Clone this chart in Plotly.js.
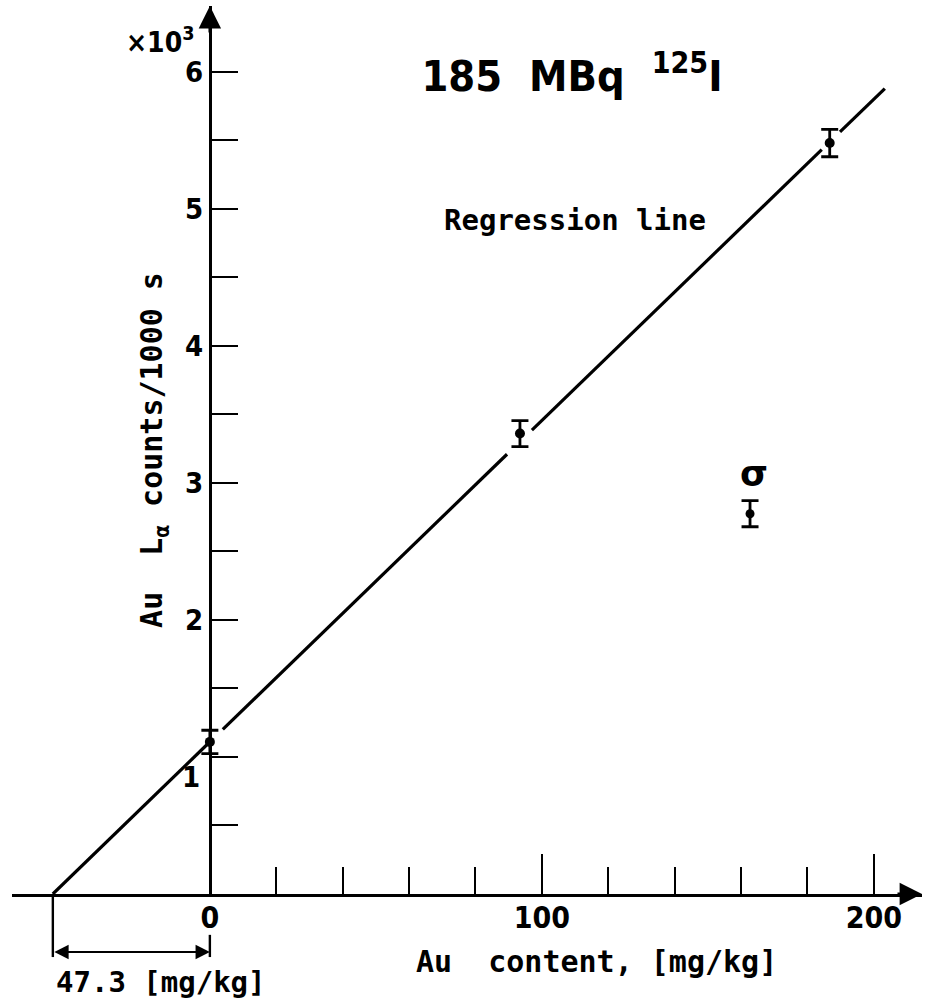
<!DOCTYPE html>
<html>
<head>
<meta charset="utf-8">
<script src="https://cdn.plot.ly/plotly-3.0.1.min.js"></script>
<style>html,body{margin:0;padding:0;background:#fff;}#chart{width:935px;height:1007px;}</style>
</head>
<body>
<div id="chart"></div>
<script>
// ---- data ----
var auContent = [0, 93.4, 186.7];            // mg/kg
var lCounts   = [1110, 3360, 5480];          // counts / 1000 s
var lErr      = [85, 95, 100];
var sigmaX = [162.7], sigmaY = [2775], sigmaErr = [95];
var regX = [-47.3, -0.9, null, 3.9, 89.5, null, 97.0, 184.3, null, 189.8, 203.3];
var regY = [0, 1089, null, 1201, 3209, null, 3385, 5432, null, 5561, 5877];
var offsetX = -47.3;                         // x-intercept
var xMajor = [0, 100, 200], xMajorText = ['0', '100', '200'];
var xMinor = [20, 40, 60, 80, 120, 140, 160, 180];
var yMajor = [1000, 2000, 3000, 4000, 5000, 6000], yMajorText = ['', '2', '3', '4', '5', '6'];
var yMinor = [500, 1500, 2500, 3500, 4500, 5500];

var numFont = 'DejaVu Sans Condensed, Liberation Sans Narrow, sans-serif';
var txtFont = 'DejaVu Sans Mono, Liberation Mono, monospace';
var W = 'bold';

var traces = [
  {x: regX, y: regY, mode: 'lines', connectgaps: false,
   line: {color: '#000', width: 3.2}, hoverinfo: 'skip', showlegend: false},
  {x: auContent, y: lCounts, mode: 'markers',
   marker: {color: '#000', size: 10},
   error_y: {type: 'data', array: lErr, visible: true, color: '#000', thickness: 2.8, width: 8.5},
   showlegend: false},
  {x: sigmaX, y: sigmaY, mode: 'markers',
   marker: {color: '#000', size: 9},
   error_y: {type: 'data', array: sigmaErr, visible: true, color: '#000', thickness: 2.8, width: 8.5},
   showlegend: false}
];

var layout = {
  width: 935, height: 1007,
  margin: {l: 12, r: 13, t: 6, b: 113, pad: 0},
  paper_bgcolor: '#fff', plot_bgcolor: '#fff',
  showlegend: false,
  title: {text: '185\u00a0\u00a0MBq\u00a0\u00a0<sup>125</sup>I',
          font: {family: numFont, size: 43, color: '#000', weight: W},
          xref: 'container', yref: 'container',
          x: 572 / 935, xanchor: 'center', y: 1 - 76 / 1007, yanchor: 'middle'},
  xaxis: {range: [-59.6, 214.5], showgrid: false, zeroline: false,
          showline: true, linecolor: '#000', linewidth: 2.6,
          tickmode: 'array', tickvals: xMajor, ticktext: xMajorText,
          ticks: 'inside', ticklen: 40, tickwidth: 2, tickcolor: '#000',
          ticklabelstandoff: -5,
          minor: {tickmode: 'array', tickvals: xMinor, ticks: 'inside', ticklen: 27, tickwidth: 2, tickcolor: '#000', showgrid: false},
          tickfont: {family: numFont, size: 30, color: '#000', weight: W}},
  yaxis: {range: [0, 6480], showgrid: false, zeroline: false,
          anchor: 'free', position: 198 / 910,
          showline: true, linecolor: '#000', linewidth: 2.6,
          tickmode: 'array', tickvals: yMajor, ticktext: yMajorText,
          ticks: 'inside', ticklen: 26, tickwidth: 2, tickcolor: '#000',
          minor: {tickmode: 'array', tickvals: yMinor, ticks: 'inside', ticklen: 26, tickwidth: 2, tickcolor: '#000', showgrid: false},
          tickfont: {family: numFont, size: 29, color: '#000', weight: W},
          title: {text: 'Au\u00a0\u00a0L<sub>\u03b1</sub>\u00a0counts/1000\u00a0s',
                  font: {family: txtFont, size: 30, color: '#000', weight: W}, standoff: 12}},
  shapes: [
    {type: 'line', xref: 'x', yref: 'paper', x0: offsetX, x1: offsetX, y0: 0, y1: -0.071, line: {color: '#000', width: 2.4}},
    {type: 'line', xref: 'x', yref: 'paper', x0: 0, x1: 0, y0: -0.046, y1: -0.071, line: {color: '#000', width: 2.4}}
  ],
  annotations: [
    // axis arrowheads
    {xref: 'x', yref: 'paper', x: 0, y: 1, ax: 0, ay: 28, showarrow: true, arrowhead: 2, arrowsize: 1.6, arrowwidth: 2.8, arrowcolor: '#000', text: ''},
    {xref: 'paper', yref: 'y', x: 1, y: 0, ax: -26, ay: 0, showarrow: true, arrowhead: 2, arrowsize: 1.6, arrowwidth: 2.8, arrowcolor: '#000', text: ''},
    // dimension arrow
    {xref: 'x', yref: 'paper', x: 0, y: -0.0653, axref: 'x', ax: offsetX, ayref: 'pixel', ay: 0,
     showarrow: true, arrowhead: 2, arrowside: 'end+start', arrowsize: 1.3, arrowwidth: 2.2, arrowcolor: '#000', text: ''},
    {xref: 'paper', yref: 'paper', x: (161 - 12) / 910, y: (894 - 982) / 888, showarrow: false,
     text: '47.3 [mg/kg]', font: {family: txtFont, size: 29, color: '#000', weight: W}, xanchor: 'center', yanchor: 'middle'},
    // x axis title
    {xref: 'paper', yref: 'paper', x: (596 - 12) / 910, y: (894 - 962) / 888, showarrow: false,
     text: 'Au\u00a0\u00a0content, [mg/kg]', font: {family: txtFont, size: 30, color: '#000', weight: W}, xanchor: 'center', yanchor: 'middle'},
    // tick label "1" placed below its tick
    {xref: 'x', yref: 'y', x: 0, y: 1000, xanchor: 'right', yanchor: 'middle', xshift: -8, yshift: -20, showarrow: false,
     text: '1', font: {family: numFont, size: 29, color: '#000', weight: W}},
    // x10^3
    {xref: 'paper', yref: 'paper', x: (160 - 12) / 910, y: (894 - 40) / 888, showarrow: false,
     text: '\u00d710<sup>3</sup>', font: {family: numFont, size: 28, color: '#000', weight: W}, xanchor: 'center', yanchor: 'middle'},
    // regression line label
    {xref: 'paper', yref: 'paper', x: (575 - 12) / 910, y: (894 - 220) / 888, showarrow: false,
     text: 'Regression line', font: {family: txtFont, size: 29, color: '#000', weight: W}, xanchor: 'center', yanchor: 'middle'},
    // sigma label
    {xref: 'paper', yref: 'paper', x: (754 - 12) / 910, y: (894 - 473) / 888, showarrow: false,
     text: '\u03c3', font: {family: 'DejaVu Sans, sans-serif', size: 36, color: '#000', weight: W}, xanchor: 'center', yanchor: 'middle'}
  ]
};

Plotly.newPlot('chart', traces, layout, {staticPlot: true, displayModeBar: false});
</script>
</body>
</html>
